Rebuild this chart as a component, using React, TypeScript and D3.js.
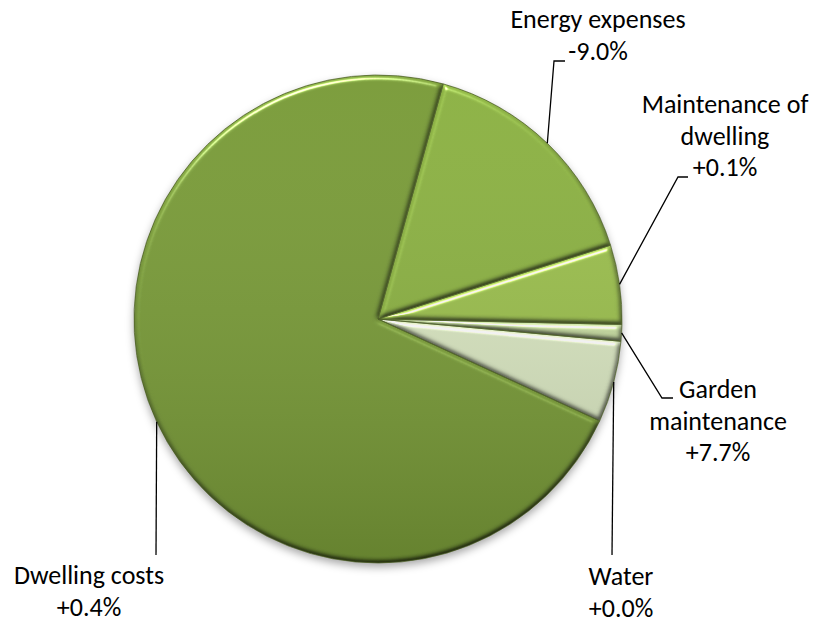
import React from "react";
import * as d3 from "d3";

// ---- data ----
const categories = ["Energy expenses", "Maintenance of dwelling", "Garden maintenance", "Water", "Dwelling costs"];
const shares = [15.8, 5.25, 1.1, 5.4, 72.45];
const changes = ["-9.0%", "+0.1%", "+7.7%", "+0.0%", "+0.4%"];
const labelLines = [
  ["Energy expenses"],
  ["Maintenance of", "dwelling"],
  ["Garden", "maintenance"],
  ["Water"],
  ["Dwelling costs"],
];
const colors = ["#89AF40", "#99BD4C", "#C3D89E", "#D7E4BF", "#779937"];

// ---- layout ----
const W = 815, H = 623;
const CX = 378, CY = 319, R = 244;
const START_DEG = 15.5;
const LINE_H = 31.5;
// label anchor: text centre x, first baseline y, leader elbow points
const labelLayout = [
  { x: 598, y: 28, elbow: [[554, 61], [565, 61]] },
  { x: 725, y: 113, elbow: [[678, 177], [688, 177]] },
  { x: 718, y: 398, elbow: [[662, 398], [673, 398]] },
  { x: 621, y: 585, elbow: [[612, 555]] },
  { x: 89, y: 584, elbow: [[156, 555]] },
];

export default function App() {
  const data = categories.map((c, i) => ({ name: c, value: shares[i], i }));
  const start = (START_DEG * Math.PI) / 180;
  const pie = d3.pie<any>().sort(null).value((d) => d.value).startAngle(start).endAngle(start + 2 * Math.PI);
  const arcs = pie(data);
  const arc = d3.arc<any>().innerRadius(0).outerRadius(R);

  return (
    <div style={{ position: "absolute", left: 0, top: 0 }}>
      <svg width={W} height={H} style={{ display: "block", background: "#fff" }}>
        <defs>
          <filter id="shadow" x="-10%" y="-10%" width="120%" height="125%">
            <feDropShadow dx="0" dy="4" stdDeviation="4" floodColor="#000" floodOpacity="0.35" />
          </filter>
          <filter id="bevel" x="-5%" y="-5%" width="110%" height="110%" colorInterpolationFilters="sRGB">
            <feGaussianBlur in="SourceAlpha" stdDeviation="2.5" result="blur" />
            <feDiffuseLighting in="blur" surfaceScale="3" diffuseConstant="1" lightingColor="#fff" result="diff">
              <feDistantLight azimuth="250" elevation="60" />
            </feDiffuseLighting>
            <feComposite in="SourceGraphic" in2="diff" operator="arithmetic" k1="1.155" k2="0" k3="0" k4="0" result="shaded" />
            <feSpecularLighting in="blur" surfaceScale="3" specularConstant="0.7" specularExponent="60" lightingColor="#fff" result="spec">
              <feDistantLight azimuth="250" elevation="45" />
            </feSpecularLighting>
            <feComposite in="spec" in2="SourceAlpha" operator="in" result="specIn" />
            <feComposite in="shaded" in2="specIn" operator="arithmetic" k1="0" k2="1" k3="1" k4="0" result="lit" />
            <feComposite in="lit" in2="SourceAlpha" operator="in" />
          </filter>
          <linearGradient id="shade" x1="0" y1="0" x2="0" y2="1">
            <stop offset="0" stopColor="#fff" stopOpacity="0.03" />
            <stop offset="1" stopColor="#000" stopOpacity="0.16" />
          </linearGradient>
        </defs>
        <g transform={`translate(${CX},${CY})`}>
          <g filter="url(#shadow)">
            {arcs.map((a, k) => (
              <path key={k} d={arc(a) as string} fill={colors[a.data.i]} filter="url(#bevel)" />
            ))}
          </g>
          <circle r={R} fill="url(#shade)" />
          {arcs.map((a, k) => (
            <path key={"s" + k} d={arc(a) as string} fill="none" stroke="#4F6228" strokeOpacity={0.75} strokeWidth={1} strokeLinejoin="round" />
          ))}
        </g>
        {arcs.map((a, k) => {
          const mid = (a.startAngle + a.endAngle) / 2;
          const p0: [number, number] = [CX + R * Math.sin(mid), CY - R * Math.cos(mid)];
          const lay = labelLayout[a.data.i];
          const pts = [p0, ...lay.elbow];
          const line = d3.line()(pts as [number, number][]) as string;
          const lines = [...labelLines[a.data.i], changes[a.data.i]];
          return (
            <g key={"l" + k}>
              <path d={line} fill="none" stroke="#000" strokeWidth={1.3} />
              <text
                x={lay.x}
                y={lay.y}
                textAnchor="middle"
                fontFamily="Carlito, Calibri, Lato, sans-serif"
                fontSize={26}
                fill="#000"
              >
                {lines.map((t, j) => (
                  <tspan key={j} x={lay.x} y={lay.y + j * LINE_H}>
                    {t}
                  </tspan>
                ))}
              </text>
            </g>
          );
        })}
      </svg>
    </div>
  );
}
